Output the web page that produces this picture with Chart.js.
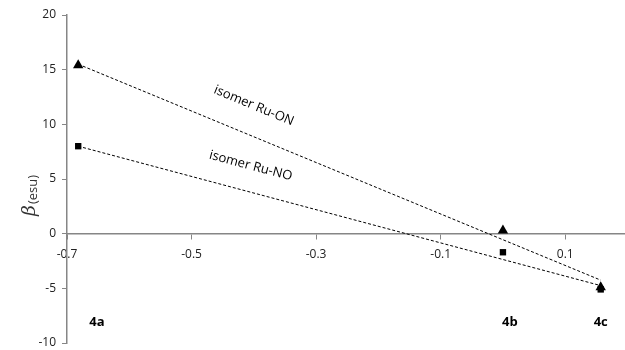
<!DOCTYPE html>
<html>
<head>
<meta charset="utf-8">
<script src="https://cdn.jsdelivr.net/npm/chart.js@4/dist/chart.umd.min.js"></script>
<style>
  html, body { margin: 0; padding: 0; background: #fff; overflow: hidden; }
  /* a little wider than the window so the x axis runs off the right edge */
  #wrap { width: 631px; height: 350px; position: relative; }
</style>
</head>
<body>
<div id="wrap"><canvas id="betaChart"></canvas></div>
<script>
// --- beta vs. substituent constant, two linkage isomers ---

const compounds = ['4a', '4b', '4c'];
const sigmaValues = [-0.682, 0.0, 0.157];
const betaRuON = [15.4, 0.3, -4.9];
const betaRuNO = [8.0, -1.7, -5.1];

// trendline end values at the first and last sigma
const trendX = [-0.682, 0.157];
const trendRuON = [15.5, -4.25];
const trendRuNO = [8.0, -4.75];

const xTicks = [-0.7, -0.5, -0.3, -0.1, 0.1];
const yTicks = [-10, -5, 0, 5, 10, 15, 20];

const axisGrey = '#868686';
const textColor = '#222222';
const fontFamily = "'Open Sans', 'Liberation Sans', sans-serif";

const toPoints = (xs, ys) => xs.map((x, i) => ({ x: x, y: ys[i] }));

// rotated line captions, the compound labels and the y title
const annotationPlugin = {
    id: 'annotations',
    afterDraw(chart) {
        const ctx = chart.ctx;
        const xs = chart.scales.x;
        const ys = chart.scales.y;

        ctx.save();
        ctx.fillStyle = '#000';
        ctx.textAlign = 'center';
        ctx.textBaseline = 'middle';

        // captions along the trendlines
        ctx.font = `13px ${fontFamily}`;
        const captions = [
            { text: 'isomer Ru-ON', x: -0.40, y: 11.7, a: trendRuON },
            { text: 'isomer Ru-NO', x: -0.405, y: 6.2, a: trendRuNO }
        ];
        captions.forEach(c => {
            const dx = xs.getPixelForValue(trendX[1]) - xs.getPixelForValue(trendX[0]);
            const dy = ys.getPixelForValue(c.a[1]) - ys.getPixelForValue(c.a[0]);
            ctx.save();
            ctx.translate(xs.getPixelForValue(c.x), ys.getPixelForValue(c.y));
            ctx.rotate(Math.atan2(dy, dx));
            ctx.fillText(c.text, 0, 0);
            ctx.restore();
        });

        // compound names under each point
        ctx.font = `bold 13px ${fontFamily}`;
        const labelX = [-0.652, 0.011, 0.157];
        compounds.forEach((name, i) => {
            ctx.fillText(name, xs.getPixelForValue(labelX[i]), ys.getPixelForValue(-8.1));
        });

        // y axis title: beta (esu)
        ctx.translate(30, 190);
        ctx.rotate(-Math.PI / 2);
        ctx.textAlign = 'left';
        ctx.textBaseline = 'alphabetic';
        ctx.fillStyle = '#333';
        ctx.font = "italic 19px 'DejaVu Serif', serif";
        const bw = ctx.measureText('\u03B2').width;
        ctx.fillText('\u03B2', -26, 5);
        ctx.font = `13px ${fontFamily}`;
        ctx.fillText('(esu)', -26 + bw + 1, 7);
        ctx.restore();
    }
};

const ctx = document.getElementById('betaChart').getContext('2d');
new Chart(ctx, {
    type: 'scatter',
    data: {
        datasets: [
            {
                label: 'Ru-ON trend',
                data: toPoints(trendX, trendRuON),
                showLine: true,
                borderColor: '#000',
                borderWidth: 1,
                borderDash: [3, 2],
                pointRadius: 0
            },
            {
                label: 'Ru-NO trend',
                data: toPoints(trendX, trendRuNO),
                showLine: true,
                borderColor: '#000',
                borderWidth: 1,
                borderDash: [3, 2],
                pointRadius: 0
            },
            {
                label: 'isomer Ru-ON',
                data: toPoints(sigmaValues, betaRuON),
                pointStyle: 'triangle',
                pointRadius: 6,
                backgroundColor: '#000',
                borderColor: '#000',
                borderWidth: 0
            },
            {
                label: 'isomer Ru-NO',
                data: toPoints(sigmaValues, betaRuNO),
                pointStyle: 'rect',
                pointRadius: 4.5,
                backgroundColor: '#000',
                borderColor: '#000',
                borderWidth: 0
            }
        ]
    },
    options: {
        responsive: true,
        maintainAspectRatio: false,
        animation: false,
        layout: { padding: { top: 15, right: 0, bottom: 7, left: 0 } },
        plugins: {
            legend: { display: false },
            tooltip: { enabled: false }
        },
        scales: {
            x: {
                type: 'linear',
                position: { y: 0 },
                min: -0.7,
                max: 0.196,
                afterBuildTicks: (scale) => { scale.ticks = xTicks.map(v => ({ value: v })); },
                ticks: {
                    color: textColor,
                    font: { family: fontFamily, size: 12 },
                    padding: 9,
                    callback: (v) => String(v)
                },
                grid: { drawOnChartArea: false, drawTicks: true, tickLength: 5, color: axisGrey },
                border: { color: axisGrey, width: 1.5 }
            },
            y: {
                type: 'linear',
                position: 'left',
                min: -10,
                max: 20,
                afterBuildTicks: (scale) => { scale.ticks = yTicks.map(v => ({ value: v })); },
                afterFit: (scale) => {
                    scale.width = 67;
                    scale.paddingTop = 0;
                    scale.paddingBottom = 0;
                },
                ticks: {
                    color: textColor,
                    font: { family: fontFamily, size: 12 },
                    padding: 6,
                    callback: (v) => String(v)
                },
                grid: { drawOnChartArea: false, drawTicks: true, tickLength: 5, color: axisGrey },
                border: { color: axisGrey, width: 1.5 }
            }
        }
    },
    plugins: [annotationPlugin]
});
</script>
</body>
</html>
